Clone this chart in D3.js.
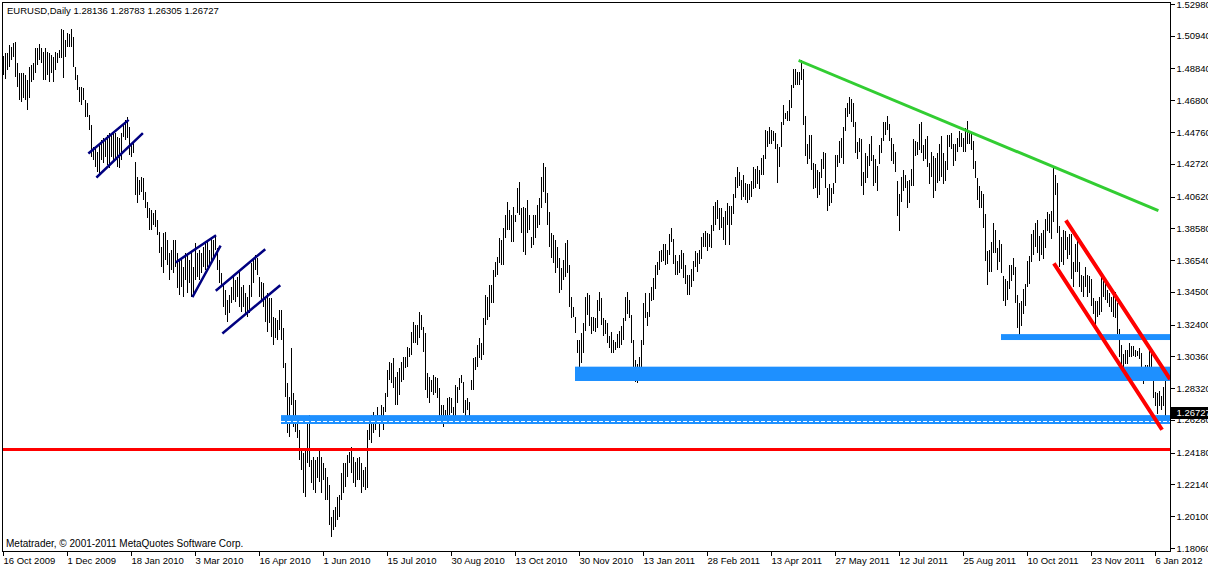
<!DOCTYPE html>
<html><head><meta charset="utf-8">
<script src="https://cdn.jsdelivr.net/npm/d3@7"></script>
<style>
html,body{margin:0;padding:0;background:#fff;overflow:hidden}
svg{display:block}
text{font-family:"Liberation Sans",Arial,sans-serif;font-size:9.5px;fill:#000}
</style></head><body>
<svg id="c" width="1208" height="568"></svg>
<script>
const titleText = "EURUSD,Daily";
const lastBarOHLC = ["1.28136","1.28783","1.26305","1.26727"];
const copyrightText = "Metatrader, \u00a9 2001-2011 MetaQuotes Software Corp.";

const highs = [
1.4964,1.4981,1.4985,1.5035,1.5024,1.5050,1.5056,1.4917,1.4853,1.4853,
1.4857,1.4842,1.4810,1.4895,1.4906,1.4917,1.5013,1.5013,1.5041,1.5013,
1.4992,1.5013,1.4992,1.4981,1.4970,1.4960,1.4992,1.4981,1.5002,1.5135,
1.5131,1.5067,1.5109,1.5105,1.5135,1.5088,1.4895,1.4842,1.4767,1.4767,
1.4756,1.4681,1.4660,1.4585,1.4521,1.4382,1.4371,1.4350,1.4403,1.4425,
1.4435,1.4425,1.4457,1.4467,1.4457,1.4478,1.4467,1.4446,1.4435,1.4467,
1.4532,1.4553,1.4574,1.4510,1.4403,1.4414,1.4286,1.4189,1.4168,1.4189,
1.4179,1.4093,1.4029,1.3986,1.3975,1.3954,1.3975,1.3911,1.3836,1.3740,
1.3825,1.3836,1.3783,1.3697,1.3718,1.3783,1.3783,1.3697,1.3654,1.3665,
1.3611,1.3697,1.3697,1.3654,1.3708,1.3611,
1.3761,1.3697,1.3719,1.3697,1.3740,1.3761,1.3783,1.3719,1.3804,1.3783,
1.3815,1.3729,1.3654,1.3569,1.3494,1.3462,1.3398,1.3430,1.3483,1.3558,
1.3526,1.3547,1.3590,1.3483,1.3494,1.3440,1.3419,1.3494,1.3633,1.3665,
1.3687,1.3665,1.3547,1.3515,1.3505,1.3419,1.3440,1.3408,1.3408,1.3291,
1.3280,1.3269,1.3333,1.3333,1.3216,1.2991,1.2863,1.2777,1.3087,1.2798,
1.2756,1.2649,1.2563,1.2445,1.2413,1.2435,1.2606,1.2659,1.2370,1.2392,
1.2370,1.2392,1.2445,1.2392,1.2349,1.2317,1.2263,1.2210,1.2007,1.2049,
1.2071,1.2135,1.2146,1.2285,1.2349,1.2349,1.2402,1.2424,1.2456,1.2392,
1.2360,1.2381,1.2392,1.2349,1.2306,1.2328,1.2563,1.2617,1.2659,1.2681,
1.2659,1.2713,1.2659,1.2724,1.2713,1.2798,1.2948,1.3002,
1.2991,1.3023,1.2906,1.2938,1.2959,1.3002,1.3034,1.3034,1.3098,1.3088,
1.3195,1.3259,1.3238,1.3238,1.3323,1.3302,1.3227,1.3184,1.2927,1.2906,
1.2884,1.2917,1.2906,1.2895,1.2831,1.2724,1.2724,1.2692,1.2767,1.2778,
1.2767,1.2713,1.2852,1.2842,1.2895,1.2917,1.2874,1.2756,1.2767,1.2745,
1.2884,1.3023,1.3034,1.3109,1.3152,1.3120,1.3280,1.3430,1.3419,1.3494,
1.3494,1.3591,1.3644,1.3676,1.3794,1.3783,1.3858,1.3944,1.4029,1.3976,
1.3944,1.3997,1.3944,1.4115,1.4158,1.3986,1.3997,1.3986,1.4040,1.3944,
1.3805,1.3944,1.3944,1.4008,1.4051,1.4190,1.4275,1.4254,1.4083,1.3965,
1.3826,1.3815,1.3783,1.3740,1.3666,1.3601,1.3655,1.3762,1.3783,1.3623,
1.3419,1.3355,1.3291,1.3141,1.3141,1.3184,1.3248,
1.3420,1.3440,1.3430,1.3290,1.3290,1.3280,1.3400,1.3450,1.3410,1.3280,
1.3270,1.3250,1.3170,1.3190,1.3140,1.3130,1.3180,1.3200,1.3230,1.3280,
1.3420,1.3450,1.3400,1.3300,1.3140,1.3010,1.2990,1.3030,1.3140,1.3380,
1.3440,1.3320,1.3440,1.3480,1.3540,1.3620,1.3640,1.3710,1.3720,1.3760,
1.3760,1.3720,1.3820,1.3860,1.3790,1.3690,1.3650,1.3690,1.3720,1.3700,
1.3620,1.3560,1.3560,1.3600,1.3650,1.3710,1.3700,1.3720,1.3800,1.3830,
1.3840,1.3830,1.3820,1.3880,1.4000,1.4030,1.4040,1.3990,1.3990,1.3930,
1.3970,1.4020,1.4000,1.4000,1.4080,1.4190,1.4250,1.4220,1.4170,1.4200,
1.4150,1.4140,1.4140,1.4160,1.4250,1.4240,1.4260,1.4230,1.4310,1.4330,
1.4490,1.4480,1.4510,1.4490,1.4480,1.4470,1.4400,1.4380,1.4540,1.4650,
1.4600,1.4610,1.4680,1.4780,1.4880,1.4880,1.4860,1.4860,1.4940,1.4880,
1.4580,1.4400,1.4460,1.4460,1.4280,1.4270,1.4230,1.4220,1.4300,1.4350,
1.4340,1.4120,1.4140,1.4120,1.4150,1.4330,1.4330,1.4420,1.4440,1.4510,
1.4630,1.4660,1.4700,1.4690,1.4660,1.4540,1.4410,1.4440,1.4430,1.4220,
1.4340,1.4320,1.4400,1.4450,1.4330,1.4300,1.4260,1.4390,1.4440,1.4540,
1.4540,1.4580,1.4530,1.4440,1.4400,1.4350,1.4160,1.4080,1.4190,1.4230,
1.4200,1.4160,1.4170,1.4240,1.4430,1.4420,1.4410,1.4530,1.4540,1.4390,
1.4430,1.4450,1.4280,1.4350,1.4320,1.4310,1.4340,1.4400,1.4450,1.4340,
1.4290,1.4460,1.4460,1.4470,1.4400,1.4400,1.4440,1.4480,1.4470,1.4440,
1.4500,1.4550,1.4480,1.4470,1.4420,1.4290,1.4180,1.4130,1.4100,1.4080,
1.3950,1.3710,1.3720,1.3770,1.3890,1.3850,1.3730,1.3780,1.3760,1.3550,
1.3530,1.3520,1.3620,1.3620,1.3670,1.3610,1.3430,1.3380,1.3390,1.3470,
1.3500,1.3650,1.3680,1.3820,1.3850,1.3890,1.3910,1.3810,1.3830,1.3850,
1.3920,1.3960,1.3950,1.3970,1.4247,1.4200,1.4150,1.3870,1.3800,1.3850,
1.3840,1.3800,1.3820,1.3820,1.3640,1.3760,1.3780,1.3640,1.3560,1.3550,
1.3610,1.3560,1.3550,1.3530,1.3410,1.3390,1.3390,1.3420,1.3550,1.3520,
1.3520,1.3460,1.3440,1.3420,1.3440,1.3450,1.3380,1.3210,1.3110,1.3050,
1.3080,1.3080,1.3120,1.3100,1.3100,1.3080,1.3070,1.3090,1.3060,1.2970,
1.2980,1.2980,1.3080,1.3060,1.2940,1.2810,1.2800,1.2815,1.2780,1.2840,
1.28783
];
const lows = [
1.4842,1.4814,1.4874,1.4895,1.4938,1.4960,1.4831,1.4767,1.4681,1.4671,
1.4692,1.4681,1.4617,1.4692,1.4799,1.4810,1.4853,1.4906,1.4938,1.4917,
1.4810,1.4810,1.4842,1.4799,1.4853,1.4799,1.4874,1.4917,1.4949,1.4949,
1.4821,1.4960,1.5024,1.5024,1.5024,1.4895,1.4810,1.4746,1.4671,1.4649,
1.4681,1.4574,1.4574,1.4489,1.4318,1.4296,1.4253,1.4221,1.4200,1.4296,
1.4275,1.4318,1.4264,1.4243,1.4318,1.4285,1.4307,1.4253,1.4243,1.4296,
1.4446,1.4425,1.4435,1.4328,1.4318,1.4339,1.4072,1.4018,1.4072,1.4093,
1.4039,1.3986,1.3922,1.3847,1.3847,1.3879,1.3868,1.3815,1.3697,1.3611,
1.3569,1.3654,1.3622,1.3526,1.3590,1.3569,1.3611,1.3472,1.3430,1.3483,
1.3419,1.3526,1.3440,1.3504,1.3419,1.3419,
1.3526,1.3547,1.3526,1.3569,1.3612,1.3590,1.3612,1.3601,1.3633,1.3676,
1.3719,1.3590,1.3505,1.3483,1.3355,1.3301,1.3259,1.3312,1.3376,1.3398,
1.3387,1.3419,1.3355,1.3323,1.3355,1.3312,1.3291,1.3312,1.3419,1.3505,
1.3590,1.3558,1.3419,1.3398,1.3355,1.3259,1.3194,1.3248,1.3162,1.3109,
1.3151,1.3141,1.3205,1.3141,1.2959,1.2777,1.2542,1.2520,1.2724,1.2584,
1.2552,1.2510,1.2370,1.2306,1.2156,1.2135,1.2349,1.2328,1.2221,1.2178,
1.2156,1.2253,1.2231,1.2156,1.2242,1.2114,1.2114,1.1953,1.1878,1.1921,
1.1942,1.1985,1.2007,1.2114,1.2156,1.2199,1.2263,1.2349,1.2285,1.2221,
1.2199,1.2242,1.2242,1.2156,1.2199,1.2178,1.2189,1.2499,1.2477,1.2542,
1.2563,1.2606,1.2520,1.2627,1.2563,1.2681,1.2777,1.2884,
1.2863,1.2831,1.2724,1.2724,1.2788,1.2874,1.2884,1.2959,1.2970,1.3034,
1.3045,1.3120,1.3120,1.3109,1.3152,1.3205,1.3066,1.2820,1.2767,1.2735,
1.2810,1.2788,1.2799,1.2767,1.2649,1.2649,1.2585,1.2628,1.2649,1.2660,
1.2670,1.2617,1.2649,1.2735,1.2820,1.2863,1.2670,1.2649,1.2692,1.2638,
1.2820,1.2820,1.2949,1.2970,1.3024,1.3013,1.3045,1.3238,1.3270,1.3291,
1.3377,1.3377,1.3548,1.3559,1.3633,1.3623,1.3623,1.3794,1.3847,1.3847,
1.3773,1.3773,1.3901,1.3954,1.3944,1.3826,1.3708,1.3687,1.3826,1.3847,
1.3730,1.3751,1.3794,1.3858,1.3880,1.3987,1.4094,1.4019,1.3880,1.3740,
1.3666,1.3633,1.3569,1.3601,1.3441,1.3462,1.3526,1.3548,1.3569,1.3355,
1.3280,1.3291,1.3184,1.3056,1.2959,1.2991,1.3056,
1.3200,1.3300,1.3230,1.3180,1.3200,1.3190,1.3220,1.3330,1.3240,1.3170,
1.3180,1.3120,1.3090,1.3060,1.3060,1.3080,1.3090,1.3090,1.3110,1.3140,
1.3260,1.3310,1.3280,1.3120,1.2960,1.2870,1.2867,1.2900,1.2960,1.3110,
1.3280,1.3230,1.3290,1.3390,1.3400,1.3470,1.3560,1.3590,1.3640,1.3650,
1.3620,1.3630,1.3690,1.3770,1.3630,1.3560,1.3560,1.3570,1.3600,1.3540,
1.3500,1.3430,1.3430,1.3480,1.3520,1.3610,1.3580,1.3630,1.3660,1.3740,
1.3740,1.3710,1.3740,1.3730,1.3840,1.3880,1.3920,1.3850,1.3860,1.3780,
1.3750,1.3880,1.3750,1.3880,1.3950,1.4050,1.4120,1.4130,1.4040,1.4060,
1.4040,1.4020,1.4040,1.4060,1.4110,1.4120,1.4140,1.4110,1.4200,1.4200,
1.4300,1.4380,1.4400,1.4400,1.4420,1.4370,1.4150,1.4250,1.4380,1.4520,
1.4560,1.4550,1.4550,1.4630,1.4760,1.4780,1.4780,1.4780,1.4810,1.4520,
1.4320,1.4270,1.4300,1.4230,1.4110,1.4120,1.4050,1.4070,1.4180,1.4240,
1.4120,1.3970,1.4000,1.4020,1.4080,1.4150,1.4250,1.4280,1.4310,1.4270,
1.4480,1.4570,1.4590,1.4540,1.4510,1.4340,1.4300,1.4350,1.4130,1.4070,
1.4150,1.4180,1.4260,1.4290,1.4130,1.4150,1.4100,1.4270,1.4340,1.4420,
1.4460,1.4490,1.4420,1.4290,1.4270,1.4220,1.3940,1.3840,1.4030,1.4100,
1.4120,1.3990,1.4020,1.4130,1.4130,1.4320,1.4330,1.4360,1.4340,1.4290,
1.4300,1.4250,1.4140,1.4190,1.4050,1.4100,1.4150,1.4160,1.4190,1.4140,
1.4160,1.4230,1.4380,1.4370,1.4260,1.4290,1.4350,1.4380,1.4380,1.4350,
1.4350,1.4400,1.4400,1.4360,1.4240,1.4180,1.4040,1.3990,1.3990,1.3860,
1.3650,1.3495,1.3580,1.3580,1.3700,1.3700,1.3590,1.3640,1.3570,1.3390,
1.3360,1.3400,1.3470,1.3520,1.3560,1.3380,1.3220,1.3145,1.3230,1.3310,
1.3360,1.3480,1.3500,1.3640,1.3690,1.3740,1.3700,1.3650,1.3690,1.3660,
1.3730,1.3840,1.3830,1.3790,1.3900,1.4070,1.3830,1.3610,1.3640,1.3620,
1.3720,1.3660,1.3690,1.3530,1.3480,1.3580,1.3580,1.3480,1.3450,1.3420,
1.3480,1.3420,1.3440,1.3360,1.3310,1.3210,1.3290,1.3300,1.3320,1.3420,
1.3400,1.3380,1.3350,1.3320,1.3290,1.3280,1.3180,1.3030,1.2950,1.2950,
1.2990,1.2990,1.3030,1.3030,1.3040,1.3030,1.3040,1.3020,1.2930,1.2860,
1.2920,1.2920,1.2950,1.2930,1.2770,1.2720,1.2665,1.2720,1.2690,1.2720,
1.26305
];
const barCount = 582;

const dateLabels = ["16 Oct 2009","1 Dec 2009","18 Jan 2010","3 Mar 2010","16 Apr 2010","1 Jun 2010",
  "15 Jul 2010","30 Aug 2010","13 Oct 2010","30 Nov 2010","13 Jan 2011","28 Feb 2011","13 Apr 2011",
  "27 May 2011","12 Jul 2011","25 Aug 2011","10 Oct 2011","23 Nov 2011","6 Jan 2012"];
const dateLabelStep = 32;
const priceLabels = ["1.52980","1.50940","1.48840","1.46800","1.44760","1.42720","1.40620","1.38580",
  "1.36540","1.34500","1.32400","1.30360","1.28320","1.26280","1.24180","1.22140","1.20100","1.18060"];
const lastPrice = 1.26727;

// drawn objects (bar index, price)
const hLineLevel = 1.2438;
const zoneStart = [139, 286, 499];
const zoneTop = [1.2659, 1.2970, 1.3179];
const zoneBottom = [1.2602, 1.2878, 1.3141];
const dashLevel = 1.2621;
const greenLine = [[398.5, 1.4932], [577, 1.3975]];
const redChannel = [[[532, 1.3898], [583, 1.2900]], [[526, 1.3622], [579, 1.2576]]];
const navyLines = [
  [[43.15, 1.4343], [62.35, 1.4549]],
  [[47.15, 1.4189], [69.5, 1.4463]],
  [[86.85, 1.3644], [106, 1.3809]],
  [[95, 1.3423], [108.5, 1.3740]],
  [[106.85, 1.3462], [130.65, 1.3719]],
  [[110.15, 1.3188], [138.15, 1.3488]]
];

const svg = d3.select("#c");
const plot = {left: 2.5, top: 2.5, right: 1170.5, bottom: 551.5};
const x = d3.scaleLinear().domain([0, barCount - 1]).range([3, 1165]);
const y = d3.scaleLinear().domain([1.18060, 1.52980]).range([548, 4]);
const px = v => Math.round(x(v)) + 0.5;

svg.append("defs").append("clipPath").attr("id","pc").append("rect")
  .attr("x", plot.left).attr("y", plot.top)
  .attr("width", plot.right - plot.left).attr("height", plot.bottom - plot.top);
const g = svg.append("g").attr("clip-path","url(#pc)");

// bars
const bars = d3.range(Math.min(highs.length, lows.length));
g.append("g").selectAll("line").data(bars).join("line")
  .attr("x1", i => px(i)).attr("x2", i => px(i))
  .attr("y1", i => y(highs[i])).attr("y2", i => y(lows[i]))
  .attr("stroke", "#000").attr("stroke-width", 1).attr("shape-rendering","crispEdges");

// zones
g.append("g").selectAll("rect").data(zoneStart).join("rect")
  .attr("x", (d) => x(d)).attr("width", (d) => plot.right - x(d))
  .attr("y", (d, k) => y(zoneTop[k])).attr("height", (d, k) => y(zoneBottom[k]) - y(zoneTop[k]))
  .attr("fill", "#1e90ff");
g.append("line").attr("x1", x(zoneStart[0])).attr("x2", plot.right)
  .attr("y1", Math.round(y(dashLevel)) + 0.5).attr("y2", Math.round(y(dashLevel)) + 0.5)
  .attr("stroke", "#fff").attr("stroke-width", 1).attr("stroke-dasharray", "4,2");

// red horizontal
g.append("line").attr("x1", plot.left).attr("x2", plot.right)
  .attr("y1", y(hLineLevel)).attr("y2", y(hLineLevel))
  .attr("stroke", "#ff0000").attr("stroke-width", 3);

// trend lines
const seg = (arr, color, w) => g.append("g").selectAll("line").data(arr).join("line")
  .attr("x1", d => x(d[0][0])).attr("y1", d => y(d[0][1]))
  .attr("x2", d => x(d[1][0])).attr("y2", d => y(d[1][1]))
  .attr("stroke", color).attr("stroke-width", w).attr("stroke-linecap","square");
seg(navyLines, "#000080", 2.5);
seg([greenLine], "#32cd32", 3);
seg(redChannel, "#ff0000", 4);

// frame
svg.append("rect").attr("x", plot.left).attr("y", plot.top)
  .attr("width", plot.right - plot.left).attr("height", plot.bottom - plot.top)
  .attr("fill","none").attr("stroke","#000").attr("stroke-width",1);

// price axis
const pa = svg.append("g");
pa.selectAll("line").data(priceLabels).join("line")
  .attr("x1", plot.right).attr("x2", plot.right + 4)
  .attr("y1", d => Math.round(y(+d)) + 0.5).attr("y2", d => Math.round(y(+d)) + 0.5)
  .attr("stroke","#000").attr("shape-rendering","crispEdges");
pa.selectAll("text").data(priceLabels).join("text")
  .attr("x", plot.right + 6).attr("y", d => y(+d) + 3.5).text(d => d);

// last price box
const ly = y(lastPrice);
svg.append("rect").attr("x", plot.right + 0.5).attr("y", Math.round(ly) - 6)
  .attr("width", 38).attr("height", 12).attr("fill","#000");
svg.append("text").attr("x", plot.right + 6).attr("y", ly + 3.5)
  .style("fill","#fff").text(d3.format(".5f")(lastPrice));

// time axis
const ta = svg.append("g");
ta.selectAll("line").data(dateLabels).join("line")
  .attr("x1", (d, k) => px(k * dateLabelStep)).attr("x2", (d, k) => px(k * dateLabelStep))
  .attr("y1", plot.bottom).attr("y2", plot.bottom + 4)
  .attr("stroke","#000").attr("shape-rendering","crispEdges");
ta.selectAll("text").data(dateLabels).join("text")
  .attr("x", (d, k) => x(k * dateLabelStep) + 0.5).attr("y", 564).text(d => d);

// header & copyright
svg.append("text").attr("x", 7).attr("y", 14)
  .text(titleText + "  " + lastBarOHLC.join(" "));
svg.append("text").attr("x", 6).attr("y", 547).style("font-size","10px").text(copyrightText);
</script>
</body></html>
